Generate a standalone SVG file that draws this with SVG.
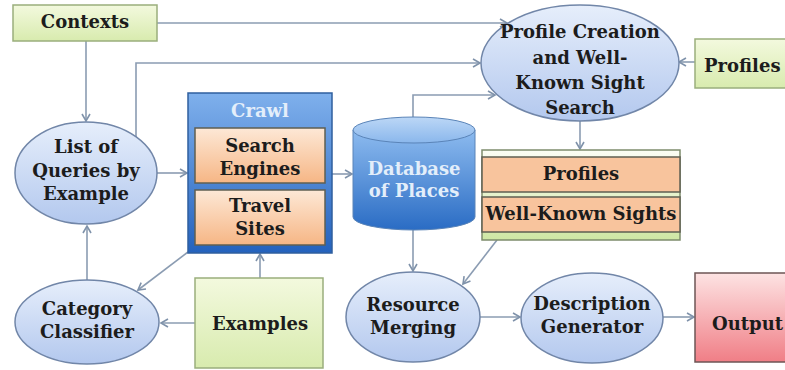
<svg xmlns="http://www.w3.org/2000/svg" width="785" height="370" viewBox="0 0 785 370">
<defs>
<linearGradient id="gEll" x1="0" y1="0" x2="0" y2="1"><stop offset="0" stop-color="#e6eefb"/><stop offset="1" stop-color="#b3c8ee"/></linearGradient>
<linearGradient id="gGreen" x1="0" y1="0" x2="0" y2="1"><stop offset="0" stop-color="#f3f9de"/><stop offset="1" stop-color="#d8ebae"/></linearGradient>
<linearGradient id="gCrawl" x1="0" y1="0" x2="0" y2="1"><stop offset="0" stop-color="#7fb0ec"/><stop offset="1" stop-color="#2462bd"/></linearGradient>
<linearGradient id="gOrange" x1="0" y1="0" x2="0" y2="1"><stop offset="0" stop-color="#fde8d6"/><stop offset="1" stop-color="#f6b685"/></linearGradient>
<linearGradient id="gDb" x1="0" y1="0" x2="0" y2="1"><stop offset="0" stop-color="#8dbbef"/><stop offset="1" stop-color="#2a6cc4"/></linearGradient>
<linearGradient id="gDbTop" x1="0" y1="0" x2="0" y2="1"><stop offset="0" stop-color="#bcd7f6"/><stop offset="1" stop-color="#8ab7ec"/></linearGradient>
<linearGradient id="gPink" x1="0" y1="0" x2="0" y2="1"><stop offset="0" stop-color="#fde3e3"/><stop offset="1" stop-color="#f07e86"/></linearGradient>
<linearGradient id="gStack" x1="0" y1="0" x2="0" y2="1"><stop offset="0" stop-color="#fbfdf4"/><stop offset="1" stop-color="#cfe7a4"/></linearGradient>
<marker id="arr" markerUnits="userSpaceOnUse" markerWidth="10" markerHeight="10" refX="8" refY="5" orient="auto">
<path d="M1,1 L8,5 L1,9" fill="none" stroke="#7f92aa" stroke-width="1.6"/>
</marker>
</defs>
<style>
.t{font-family:"DejaVu Serif","Liberation Serif",serif;font-weight:bold;font-size:18px;fill:#1c1c1c;text-anchor:middle}
.tl{font-family:"DejaVu Serif","Liberation Serif",serif;font-weight:bold;font-size:18px;fill:#e3eefa;text-anchor:middle}
.ell{fill:url(#gEll);stroke:#7186a8;stroke-width:1.5}
.grn{fill:url(#gGreen);stroke:#9aae7c;stroke-width:1.5}
.org{fill:url(#gOrange);stroke:#5f5f52;stroke-width:1.5}
.c{fill:none;stroke:#8b9cb2;stroke-width:1.6;marker-end:url(#arr)}
</style>
<rect width="785" height="370" fill="#ffffff"/>
<g id="connectors">
<path class="c" d="M157,23 H507"/>
<path class="c" d="M86,41 V121"/>
<path class="c" d="M136,137 V63 H480"/>
<path class="c" d="M157,173 H187"/>
<path class="c" d="M332,174 H352"/>
<path class="c" d="M413,117 V95 H495"/>
<path class="c" d="M695,62 H679"/>
<path class="c" d="M580,121 V149"/>
<path class="c" d="M413,230 V271"/>
<path class="c" d="M497,240 L463,284"/>
<path class="c" d="M480,317 H520"/>
<path class="c" d="M663,317 H694"/>
<path class="c" d="M260,278 V254"/>
<path class="c" d="M195,323 H161"/>
<path class="c" d="M188,252 L138,290"/>
<path class="c" d="M87,280 V226"/>
</g>
<g id="contexts">
<rect class="grn" x="13" y="5" width="144" height="36"/>
<text class="t" x="85" y="28">Contexts</text>
</g>
<g id="list-of-queries">
<ellipse class="ell" cx="86" cy="173" rx="71" ry="51"/>
<text class="t" x="86" y="153">List of</text>
<text class="t" x="86" y="177">Queries by</text>
<text class="t" x="86" y="200">Example</text>
</g>
<g id="crawl">
<rect x="188" y="93" width="144" height="160" fill="url(#gCrawl)" stroke="#2f5f9e" stroke-width="1.5"/>
<text class="tl" x="260" y="117">Crawl</text>
<rect class="org" x="195" y="128" width="130" height="55"/>
<text class="t" x="260" y="152">Search</text>
<text class="t" x="260" y="175">Engines</text>
<rect class="org" x="195" y="190" width="130" height="55"/>
<text class="t" x="260" y="212">Travel</text>
<text class="t" x="260" y="235">Sites</text>
</g>
<g id="database">
<path d="M353,130 V217 A61,13 0 0 0 475,217 V130 Z" fill="url(#gDb)" stroke="#5a84b8" stroke-width="1"/>
<ellipse cx="414" cy="130" rx="61" ry="13" fill="url(#gDbTop)" stroke="#5a84b8" stroke-width="1"/>
<text class="tl" x="414" y="175">Database</text>
<text class="tl" x="414" y="197">of Places</text>
</g>
<g id="profile-creation">
<ellipse class="ell" cx="580" cy="63" rx="99" ry="58"/>
<text class="t" x="580" y="38">Profile Creation</text>
<text class="t" x="580" y="64">and Well-</text>
<text class="t" x="580" y="89">Known Sight</text>
<text class="t" x="580" y="114">Search</text>
</g>
<g id="profiles-input">
<rect class="grn" x="695" y="39" width="95" height="49"/>
<text class="t" x="704" y="72" style="text-anchor:start">Profiles</text>
</g>
<g id="profiles-sights">
<rect x="482" y="150" width="198" height="90" fill="url(#gStack)" stroke="#7d8c6c" stroke-width="1.5"/>
<rect x="482" y="157" width="198" height="35" fill="#f8c49d" stroke="#5f5f52" stroke-width="1.5"/>
<text class="t" x="581" y="180">Profiles</text>
<rect x="482" y="197" width="198" height="35" fill="#f8c49d" stroke="#5f5f52" stroke-width="1.5"/>
<text class="t" x="581" y="220">Well-Known Sights</text>
</g>
<g id="category-classifier">
<ellipse class="ell" cx="87" cy="322" rx="72" ry="42"/>
<text class="t" x="87" y="315">Category</text>
<text class="t" x="87" y="338">Classifier</text>
</g>
<g id="examples">
<rect class="grn" x="195" y="278" width="128" height="90"/>
<text class="t" x="260" y="330">Examples</text>
</g>
<g id="resource-merging">
<ellipse class="ell" cx="413" cy="317" rx="67" ry="45"/>
<text class="t" x="413" y="311">Resource</text>
<text class="t" x="413" y="334">Merging</text>
</g>
<g id="description-generator">
<ellipse class="ell" cx="592" cy="318" rx="71" ry="45"/>
<text class="t" x="592" y="310">Description</text>
<text class="t" x="592" y="333">Generator</text>
</g>
<g id="output">
<rect x="695" y="273" width="100" height="89" fill="url(#gPink)" stroke="#6e5656" stroke-width="1.5"/>
<text class="t" x="712" y="330" style="text-anchor:start">Output</text>
</g>
</svg>
